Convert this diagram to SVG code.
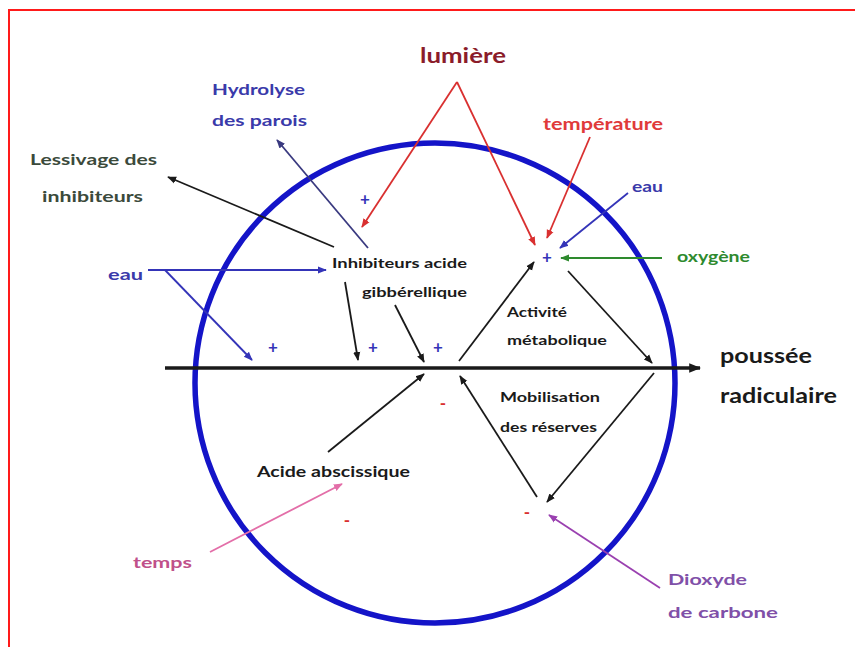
<svg xmlns="http://www.w3.org/2000/svg" width="855" height="647" viewBox="0 0 855 647">
<style>
text{font-family:Lato,"Open Sans","Liberation Sans",sans-serif;font-weight:bold}
.c{fill:none;stroke-width:1.8}
.k{stroke:#1a1a1a}.r{stroke:#d93030}.b{stroke:#3434b8}.n{stroke:#3a3a80}.g{stroke:#2e8a2e}.p{stroke:#e36ea8}.v{stroke:#9a40b0}
.sym{font-size:17px}
</style>
<defs>
<marker id="ak" viewBox="0 0 10 10" refX="9" refY="5" markerWidth="9" markerHeight="9" markerUnits="userSpaceOnUse" orient="auto"><path d="M0,1 L10,5 L0,9 z" fill="#1a1a1a"/></marker>
<marker id="ar" viewBox="0 0 10 10" refX="9" refY="5" markerWidth="9" markerHeight="9" markerUnits="userSpaceOnUse" orient="auto"><path d="M0,1 L10,5 L0,9 z" fill="#d93030"/></marker>
<marker id="ab" viewBox="0 0 10 10" refX="9" refY="5" markerWidth="9" markerHeight="9" markerUnits="userSpaceOnUse" orient="auto"><path d="M0,1 L10,5 L0,9 z" fill="#3434b8"/></marker>
<marker id="an" viewBox="0 0 10 10" refX="9" refY="5" markerWidth="9" markerHeight="9" markerUnits="userSpaceOnUse" orient="auto"><path d="M0,1 L10,5 L0,9 z" fill="#3a3a80"/></marker>
<marker id="ag" viewBox="0 0 10 10" refX="9" refY="5" markerWidth="9" markerHeight="9" markerUnits="userSpaceOnUse" orient="auto"><path d="M0,1 L10,5 L0,9 z" fill="#2e8a2e"/></marker>
<marker id="ap" viewBox="0 0 10 10" refX="9" refY="5" markerWidth="9" markerHeight="9" markerUnits="userSpaceOnUse" orient="auto"><path d="M0,1 L10,5 L0,9 z" fill="#e36ea8"/></marker>
<marker id="av" viewBox="0 0 10 10" refX="9" refY="5" markerWidth="9" markerHeight="9" markerUnits="userSpaceOnUse" orient="auto"><path d="M0,1 L10,5 L0,9 z" fill="#9a40b0"/></marker>
<marker id="am" viewBox="0 0 10 10" refX="9" refY="5" markerWidth="12" markerHeight="12" markerUnits="userSpaceOnUse" orient="auto"><path d="M0,1 L10,5 L0,9 z" fill="#1a1a1a"/></marker>
</defs>
<rect width="855" height="647" fill="#ffffff"/>
<rect x="9" y="10" width="860" height="660" fill="none" stroke="#ff1a1a" stroke-width="2"/>
<g id="seed"><circle cx="435" cy="383" r="240" fill="none" stroke="#1414c8" stroke-width="5.5"/></g>
<g id="connectors">
<line x1="165" y1="368" x2="700" y2="368" stroke="#1a1a1a" stroke-width="3.5" marker-end="url(#am)"/>
<line class="c r" x1="457" y1="82" x2="362" y2="227" marker-end="url(#ar)"/>
<line class="c r" x1="457" y1="82" x2="535" y2="245" marker-end="url(#ar)"/>
<line class="c r" x1="590" y1="137" x2="547" y2="238" marker-end="url(#ar)"/>
<line class="c b" x1="628" y1="193" x2="560" y2="248" marker-end="url(#ab)"/>
<line class="c g" x1="662" y1="258" x2="561" y2="258" marker-end="url(#ag)"/>
<line class="c n" x1="368" y1="248" x2="277" y2="140" marker-end="url(#an)"/>
<line class="c k" x1="334" y1="247" x2="168" y2="177" marker-end="url(#ak)"/>
<line class="c b" x1="148" y1="270" x2="326" y2="270" marker-end="url(#ab)"/>
<line class="c b" x1="165" y1="270" x2="252" y2="360" marker-end="url(#ab)"/>
<line class="c k" x1="345" y1="282" x2="358" y2="360" marker-end="url(#ak)"/>
<line class="c k" x1="395" y1="305" x2="424" y2="362" marker-end="url(#ak)"/>
<line class="c k" x1="459" y1="361" x2="534" y2="262" marker-end="url(#ak)"/>
<line class="c k" x1="568" y1="271" x2="652" y2="363" marker-end="url(#ak)"/>
<line class="c k" x1="328" y1="452" x2="424" y2="374" marker-end="url(#ak)"/>
<line class="c k" x1="537" y1="497" x2="460" y2="376" marker-end="url(#ak)"/>
<line class="c k" x1="654" y1="373" x2="547" y2="502" marker-end="url(#ak)"/>
<line class="c v" x1="660" y1="588" x2="549" y2="515" marker-end="url(#av)"/>
<line class="c p" x1="210" y1="552" x2="342" y2="484" marker-end="url(#ap)"/>
</g>
<g id="lumiere"><text x="463" y="63" font-size="20" fill="#8b1c2a" text-anchor="middle" textLength="86" lengthAdjust="spacingAndGlyphs">lumière</text></g>
<g id="hydrolyse" fill="#3a3aaa" font-size="16">
<text x="212" y="95" textLength="93" lengthAdjust="spacingAndGlyphs">Hydrolyse</text>
<text x="212" y="126" textLength="95" lengthAdjust="spacingAndGlyphs">des parois</text>
</g>
<g id="lessivage" fill="#3b4a3b" font-size="16">
<text x="30" y="165" textLength="127" lengthAdjust="spacingAndGlyphs">Lessivage des</text>
<text x="42" y="202" textLength="101" lengthAdjust="spacingAndGlyphs">inhibiteurs</text>
</g>
<g id="eau-gauche"><text x="108" y="280" font-size="16" fill="#3a3aaa" textLength="35" lengthAdjust="spacingAndGlyphs">eau</text></g>
<g id="temperature"><text x="543" y="130" font-size="17" fill="#e03a3a" textLength="120" lengthAdjust="spacingAndGlyphs">température</text></g>
<g id="eau-droite"><text x="632" y="192" font-size="16" fill="#3a3aaa" textLength="31" lengthAdjust="spacingAndGlyphs">eau</text></g>
<g id="oxygene"><text x="677" y="262" font-size="16" fill="#2e8a2e" textLength="73" lengthAdjust="spacingAndGlyphs">oxygène</text></g>
<g id="inhibiteurs" fill="#1a1a1a" font-size="14">
<text x="332" y="268" textLength="135" lengthAdjust="spacingAndGlyphs">Inhibiteurs  acide</text>
<text x="362" y="297" textLength="105" lengthAdjust="spacingAndGlyphs">gibbérellique</text>
</g>
<g id="activite" fill="#1a1a1a" font-size="14">
<text x="507" y="317" textLength="60" lengthAdjust="spacingAndGlyphs">Activité</text>
<text x="507" y="345" textLength="100" lengthAdjust="spacingAndGlyphs">métabolique</text>
</g>
<g id="mobilisation" fill="#1a1a1a" font-size="14">
<text x="500" y="402" textLength="100" lengthAdjust="spacingAndGlyphs">Mobilisation</text>
<text x="500" y="432" textLength="97" lengthAdjust="spacingAndGlyphs">des réserves</text>
</g>
<g id="poussee" fill="#1a1a1a" font-size="20">
<text x="720" y="363" textLength="92" lengthAdjust="spacingAndGlyphs">poussée</text>
<text x="720" y="403" textLength="117" lengthAdjust="spacingAndGlyphs">radiculaire</text>
</g>
<g id="acide-abscissique"><text x="257" y="477" font-size="15" fill="#1a1a1a" textLength="153" lengthAdjust="spacingAndGlyphs">Acide abscissique</text></g>
<g id="temps"><text x="133" y="568" font-size="16" fill="#c0508a" textLength="59" lengthAdjust="spacingAndGlyphs">temps</text></g>
<g id="dioxyde" fill="#8050a8" font-size="16">
<text x="668" y="585" textLength="79" lengthAdjust="spacingAndGlyphs">Dioxyde</text>
<text x="668" y="618" textLength="110" lengthAdjust="spacingAndGlyphs">de carbone</text>
</g>
<g id="signes" class="sym" text-anchor="middle">
<text x="365" y="205" fill="#3434b8">+</text>
<text x="273" y="353" fill="#3434b8">+</text>
<text x="373" y="353" fill="#3434b8">+</text>
<text x="438" y="353" fill="#3434b8">+</text>
<text x="547" y="263" fill="#3434b8">+</text>
<text x="443" y="409" fill="#d93030">-</text>
<text x="347" y="526" fill="#d93030">-</text>
<text x="527" y="518" fill="#d93030">-</text>
</g>
</svg>
